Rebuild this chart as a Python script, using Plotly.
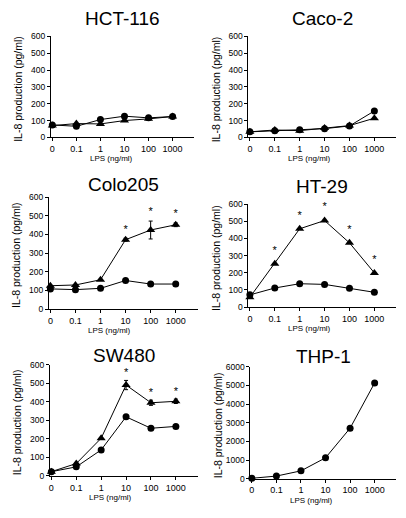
import plotly.graph_objects as go

W, H = 406, 518

lps_labels = ["0", "0.1", "1", "10", "100", "1000"]

hct116_circle = [74, 66, 106, 126, 116, 124]
hct116_tri = [70, 82, 80, 100, 110, 124]

caco2_circle = [33, 40, 46, 52, 68, 157]
caco2_tri = [33, 44, 40, 56, 70, 114]

colo205_circle = [108, 104, 111, 153, 134, 134]
colo205_tri = [125, 129, 157, 372, 424, 452]
colo205_tri_err = [0, 0, 0, 8, 48, 10]
colo205_sig = [0, 0, 0, 1, 1, 1]

ht29_circle = [71, 111, 136, 132, 109, 86]
ht29_tri = [57, 253, 456, 504, 374, 199]
ht29_tri_err = [0, 0, 0, 0, 0, 0]
ht29_sig = [0, 1, 1, 1, 1, 1]

sw480_circle = [22, 48, 140, 319, 257, 267]
sw480_tri = [22, 66, 203, 491, 395, 403]
sw480_tri_err = [0, 0, 0, 25, 14, 12]
sw480_sig = [0, 0, 0, 1, 1, 1]

thp1_circle = [20, 140, 420, 1120, 2710, 5140]

panels = [
    dict(title="HCT-116", circ=hct116_circle, tri=hct116_tri, err=None, sig=None,
         box=(50, 193, 32, 135), ymax=600, dy=100, pad=0, ty=14),
    dict(title="Caco-2", circ=caco2_circle, tri=caco2_tri, err=None, sig=None,
         box=(248, 396, 32, 135), ymax=600, dy=100, pad=0, ty=14),
    dict(title="Colo205", circ=colo205_circle, tri=colo205_tri, err=colo205_tri_err, sig=colo205_sig,
         box=(48, 197, 196, 310), ymax=600, dy=100, pad=45, ty=183),
    dict(title="HT-29", circ=ht29_circle, tri=ht29_tri, err=ht29_tri_err, sig=ht29_sig,
         box=(248, 396, 203, 308), ymax=600, dy=100, pad=75, ty=185),
    dict(title="SW480", circ=sw480_circle, tri=sw480_tri, err=sw480_tri_err, sig=sw480_sig,
         box=(49, 197, 367, 480), ymax=600, dy=100, pad=38, ty=357),
    dict(title="THP-1", circ=thp1_circle, tri=None, err=None, sig=None,
         box=(250, 396, 369, 483), ymax=6000, dy=1000, pad=0, ty=358),
]

FONT = "Liberation Sans, Arial, Helvetica, sans-serif"
fig = go.Figure()
layout = dict(width=W, height=H, margin=dict(l=0, r=0, t=0, b=0),
              paper_bgcolor="white", plot_bgcolor="white", showlegend=False,
              font=dict(family=FONT, color="black"))
annotations = []
xpos = list(range(len(lps_labels)))

for i, p in enumerate(panels):
    n = "" if i == 0 else str(i + 1)
    xa, ya = "x" + n, "y" + n
    x0, x1, y0, y1 = p["box"]
    layout["xaxis" + n] = dict(
        domain=[x0 / W, x1 / W], anchor=ya, range=[-0.06, 5.87],
        tickmode="array", tickvals=xpos, ticktext=lps_labels,
        showline=True, linecolor="black", linewidth=1, ticks="outside",
        ticklen=3, tickcolor="black", showgrid=False, zeroline=False,
        tickfont=dict(size=9, family=FONT, color="black"), fixedrange=True)
    layout["yaxis" + n] = dict(
        domain=[1 - y1 / H, 1 - y0 / H], anchor=xa, range=[0, p["ymax"]],
        dtick=p["dy"], showline=True, linecolor="black", linewidth=1,
        ticks="outside", ticklen=3, tickcolor="black", showgrid=False,
        zeroline=False, tickfont=dict(size=8.5, family=FONT, color="black"),
        fixedrange=True)
    fig.add_trace(go.Scatter(
        x=xpos, y=p["circ"], xaxis=xa, yaxis=ya, mode="lines+markers",
        line=dict(color="black", width=1),
        marker=dict(symbol="circle", size=7, color="black"), cliponaxis=False,
        hoverinfo="skip"))
    if p["tri"] is not None:
        err = p["err"]
        fig.add_trace(go.Scatter(
            x=xpos, y=p["tri"], xaxis=xa, yaxis=ya, mode="lines+markers",
            line=dict(color="black", width=1),
            marker=dict(symbol="triangle-up", size=8, color="black"),
            error_y=dict(type="data", array=err, visible=err is not None,
                         color="black", thickness=1, width=2),
            cliponaxis=False, hoverinfo="skip"))
    if p["sig"] is not None:
        sx, sy = [], []
        for k, s in enumerate(p["sig"]):
            if s:
                sx.append(xpos[k])
                sy.append(p["tri"][k] + (p["err"][k] if p["err"] else 0) + p["pad"])
        fig.add_trace(go.Scatter(
            x=sx, y=sy, xaxis=xa, yaxis=ya, mode="text", text=["*"] * len(sx),
            textfont=dict(size=11, family=FONT, color="black"),
            textposition="middle center", cliponaxis=False, hoverinfo="skip"))
    cx = (x0 + x1) / 2
    annotations.append(dict(text=p["title"], x=cx / W, y=1 - p["ty"] / H,
                            xref="paper", yref="paper", showarrow=False,
                            xanchor="center", yanchor="middle",
                            font=dict(size=19, family=FONT, color="black")))
    annotations.append(dict(text="LPS (ng/ml)", x=(x0 + 61) / W, y=1 - (y1 + 22) / H,
                            xref="paper", yref="paper", showarrow=False,
                            xanchor="center", yanchor="middle",
                            font=dict(size=8, family=FONT, color="black")))
    annotations.append(dict(text="IL-8 production (pg/ml)", x=(x0 - 33) / W,
                            y=1 - ((y0 + y1) / 2 + 2) / H,
                            xref="paper", yref="paper", showarrow=False,
                            xanchor="center", yanchor="middle", textangle=-90,
                            font=dict(size=10.5, family=FONT, color="black")))

layout["annotations"] = annotations
layout["hovermode"] = False
fig.update_layout(**layout)
fig.write_html("out.html", config={"displayModeBar": False, "staticPlot": True},
               post_script="document.body.style.margin='0';document.body.style.overflow='hidden';")
